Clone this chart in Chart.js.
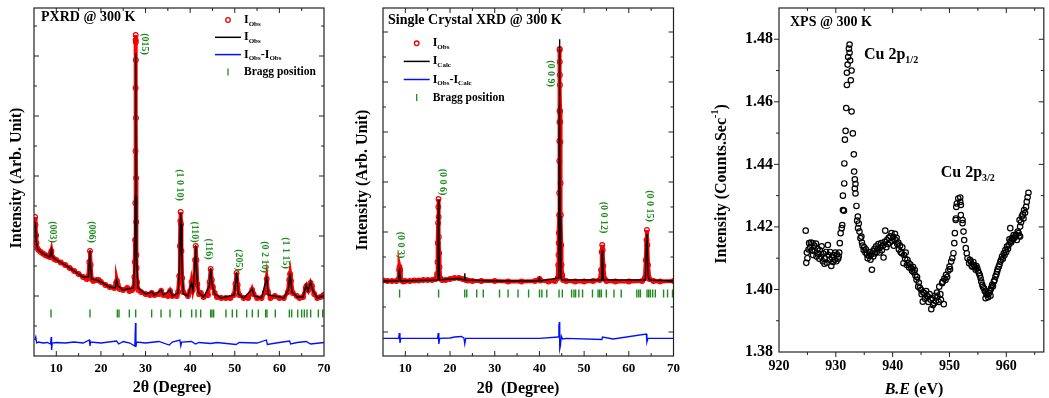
<!DOCTYPE html>
<html>
<head>
<meta charset="utf-8">
<script src="https://cdn.jsdelivr.net/npm/chart.js@4.4.1/dist/chart.umd.min.js"></script>
<style>
  html, body { margin: 0; padding: 0; background: #fff; }
  .panel { position: absolute; top: 0; height: 398px; }
  #p1 { left: 0; width: 340px; }
  #p2 { left: 340px; width: 345px; }
  #p3 { left: 685px; width: 364px; }
</style>
</head>
<body>
<div class="panel" id="p1"><canvas id="c1" width="340" height="398"></canvas></div>
<div class="panel" id="p2"><canvas id="c2" width="345" height="398"></canvas></div>
<div class="panel" id="p3"><canvas id="c3" width="364" height="398"></canvas></div>
<script>
// ---- PXRD @ 300 K : [2theta, intensity (arb.)] ----
const pxrdObs = [[5.25,139],[5.35,131],[5.45,121],[5.55,113],[5.7,108],[6.0,106],[6.5,104],[7.0,102.5],[7.5,101],[8.0,100],[8.5,99],[8.8,103],[8.9,105],[9.1,99],[9.5,97],[10,96],[11,93.5],[12,91],[13,88],[14,85],[15,82],[16,79],[16.8,77],[17.2,80],[17.4,94],[17.55,105],[17.7,91],[17.9,77],[18.3,75],[19,76],[19.5,76],[20,74],[21,71],[22,69],[23,68],[23.4,73],[23.6,75],[23.8,71],[24.2,67],[25,66],[25.9,68],[26.4,65],[27.0,66],[27.3,68],[27.5,79],[27.6,94],[27.66,116],[27.71,153],[27.75,205],[27.77,268],[27.79,316],[27.8,321],[27.82,314],[27.84,296],[27.86,238],[27.88,178],[27.91,134],[27.95,101],[28.0,88],[28.1,74],[28.4,66],[29,64],[30,62],[31,61],[31.4,63],[32,61],[33,62],[33.5,65],[34,61],[35,60],[35.5,65],[36,60],[37,60],[37.3,64],[37.55,80],[37.7,110],[37.8,135],[37.87,144],[37.95,132],[38.05,105],[38.2,78],[38.45,64],[39.5,60],[40.0,65],[40.3,74],[40.6,66],[40.9,72],[41.1,96],[41.25,110],[41.4,96],[41.6,72],[42.0,62],[42.4,63],[43,59],[44.0,61],[44.35,74],[44.6,87],[44.85,76],[45.1,69],[45.5,63],[46,59],[47,58],[48,58],[49,58],[49.8,61],[50.15,72],[50.4,83],[50.65,71],[51,61],[52,58],[53,58],[53.7,63],[53.9,66],[54.2,62],[55,58],[56,58],[56.8,64],[57.15,77],[57.45,64],[58,58],[59,60],[60,58],[61,58],[61.9,64],[62.2,76],[62.4,82],[62.6,75],[63,63],[63.9,60],[64.5,58],[65.3,59],[65.9,68],[66.1,70],[66.5,66],[67.0,73],[67.3,70],[67.8,62],[68.5,58],[69.2,59],[69.9,61],[70,60]];
const pxrdCalc = [[5.3,134],[5.5,115],[5.8,107],[6.5,104],[7.5,101],[8.5,99],[8.8,104],[8.9,106],[9.0,100],[10,96],[12,91],[14,85],[16,79],[17.2,79],[17.45,98],[17.55,106],[17.65,92],[17.9,77],[19,76],[20,74],[22,69],[23.2,68],[23.5,76],[23.8,70],[25,66],[26,67],[27.3,68],[27.6,96],[27.7,160],[27.8,303],[27.9,160],[28.0,96],[28.3,68],[30,62],[31.4,64],[32,61],[33.5,66],[34,61],[35.5,66],[36,60],[37.3,63],[37.6,90],[37.8,135],[37.87,143],[37.95,132],[38.15,85],[38.5,62],[39.5,60],[40.3,73],[40.6,66],[41.0,85],[41.25,111],[41.5,80],[41.8,64],[43,59],[44.3,70],[44.6,88],[44.9,72],[45.5,62],[47,58],[49.9,61],[50.4,84],[50.8,62],[52,58],[53.9,67],[54.4,60],[56,58],[57.15,78],[57.5,61],[59,60],[61,58],[62.0,66],[62.4,83],[62.8,64],[64,59],[65.3,59],[66.0,71],[66.4,65],[67.0,74],[67.5,65],[68.5,58],[70,60]];
const pxrdDiff = [[5.2,16],[5.4,19],[5.6,13],[6,14],[7,13],[8,13.5],[8.7,12],[8.85,19],[8.95,6],[9.1,13],[10,13.5],[12,13],[14,14],[16,13],[17.4,16],[17.55,10],[17.7,14],[20,13],[23.5,15],[24,12],[25,14.5],[26.5,13],[27.6,10],[27.75,33],[27.85,9],[28,14],[30,13],[33,14.5],[35.3,11],[36,14],[37.7,16],[37.9,10],[38.1,14],[40.3,14.5],[41.2,12],[42,13.5],[44.6,12.5],[46,13.5],[50.3,11.5],[51,13.5],[55,13],[57.1,16],[57.3,11.5],[60,13.5],[62.3,15],[62.5,12],[64,13.5],[66,14.5],[67,12],[70,13.5]];
const pxrdBragg = [8.81,17.55,23.68,24.05,26.37,27.79,31.37,33.47,35.48,37.87,40.34,41.31,42.36,44.6,44.9,45.27,48.03,49.45,50.43,52.67,53.94,55.28,56.93,57.22,59.09,62.23,62.75,64.1,64.99,65.59,66.19,67.01,68.73,69.7];
const pxrdHkl  = ['(003)','(006)','(015)','(1 0 10)','(110)','(116)','(205)','(0 2 10)','(1 1 15)'];
const pxrdHklX = [9.1, 17.93, 29.88, 37.72, 41.09, 44.07, 50.79, 56.62, 61.42];
const pxrdHklY = [124, 124, 312, 171, 124, 107, 96, 99, 103];

// ---- Single crystal XRD @ 300 K ----
const scObs = [[5,75.5],[6,75],[7,75],[8,75],[8.5,77],[8.6,86],[8.7,89],[8.85,86],[9,76],[9.5,74.5],[10,75],[11,75],[12,75.5],[13,75.5],[14,76],[15,76],[16,76],[16.8,77],[17.1,82],[17.2,94],[17.27,113],[17.33,133],[17.38,149],[17.42,157],[17.46,139],[17.5,119],[17.56,103],[17.65,89],[17.8,78],[18.2,76],[19,76],[20,77],[21,78],[22,78],[22.8,77],[23.5,76],[24,75.5],[25,75],[27,75],[30,75],[33,74.5],[36,74.5],[39,75],[40,77],[40.2,75.5],[42,74.5],[43.5,75],[44.1,78],[44.2,91],[44.27,101],[44.32,113],[44.36,123],[44.4,141],[44.42,163],[44.44,195],[44.46,215],[44.48,234],[44.5,245],[44.52,306],[44.54,307],[44.56,294],[44.58,281],[44.6,271],[44.63,245],[44.66,234],[44.7,214],[44.75,173],[44.8,141],[44.87,111],[44.95,91],[45.1,81],[45.3,76],[46,75],[48,74.5],[50,74.5],[52,75],[53.5,76],[53.8,86],[53.95,104],[54.05,111],[54.15,106],[54.3,90],[54.6,77],[55,75],[57,74.5],[60,74.5],[63,75],[63.6,78],[63.8,96],[63.95,116],[64.05,126],[64.15,111],[64.3,91],[64.6,77],[65.5,75],[67,74.5],[70,75]];
const scCalc = [[5,75],[8.5,75],[8.65,85],[8.7,89],[8.8,85],[8.95,75],[17.2,76],[17.3,110],[17.42,156],[17.5,110],[17.65,76],[20,77],[22,77.5],[23.2,76],[23.3,82.7],[23.4,76],[30,75],[39.8,75],[40,78],[40.2,75],[44.2,78],[44.35,140],[44.45,250],[44.5,316.7],[44.55,250],[44.65,140],[44.8,78],[45,76],[53.8,76],[53.95,100],[54.05,106],[54.15,100],[54.3,76],[63.7,76],[63.95,115],[64.05,122],[64.15,112],[64.3,80],[64.6,76],[70,75]];
const scDiff = [[5,17.7],[8.5,17.7],[8.65,23],[8.8,13],[9,17.7],[17.2,17.7],[17.35,23],[17.5,12],[17.7,17.7],[20,18],[21,19],[22.5,19.5],[23.1,18],[23.3,12],[23.5,17.7],[40,17.7],[44.2,19],[44.35,30],[44.45,34],[44.55,7],[44.7,10],[44.9,20],[45.2,17],[46,17.7],[54,16.5],[54.1,19],[56.5,17],[63.9,22],[64.05,14],[64.3,17.7],[70,17.7]];
const scBragg = [8.71,17.44,23.29,23.74,25.96,27.44,31.07,32.99,35.21,37.58,40.02,40.54,41.65,44.39,45.13,47.2,47.72,48.09,48.83,49.65,51.87,53.12,53.49,53.86,54.97,56.68,58.3,61.79,62.23,62.6,64.08,64.45,64.82,65.34,65.93,67.78,68.67,69.78];
const scHkl  = ['(0 0 3)','(0 0 6)','(0 0 9)','(0 0 12)','(0 0 15)'];
const scHklX = [8.93, 18.32, 42.4, 54.39, 64.6];
const scHklY = [111, 174, 282.5, 138.5, 150];

const xrdTicks = [10, 20, 30, 40, 50, 60, 70];

// ---- XPS @ 300 K : [B.E (eV), counts/s] ----
const xps = [[924.7,1.4188],[924.8,1.4085],[924.9,1.4118],[925.0,1.4100],[925.2,1.4128],[925.3,1.4148],[925.5,1.4135],[925.6,1.4150],[925.8,1.4125],[925.9,1.4148],[926.0,1.4110],[926.2,1.4140],[926.3,1.4122],[926.5,1.4147],[926.6,1.4105],[926.8,1.4130],[926.9,1.4115],[927.1,1.4098],[927.2,1.4125],[927.4,1.4105],[927.5,1.4138],[927.7,1.4090],[927.8,1.4115],[928.0,1.4082],[928.1,1.4100],[928.3,1.4120],[928.4,1.4085],[928.6,1.4142],[928.7,1.4110],[928.9,1.4095],[929.0,1.4120],[929.2,1.4075],[929.3,1.4102],[929.5,1.4088],[929.6,1.4110],[929.8,1.4095],[929.9,1.4118],[930.1,1.4090],[930.2,1.4112],[930.4,1.4098],[930.5,1.4105],[930.6,1.4118],[930.7,1.4148],[930.85,1.4180],[931.03,1.4196],[931.13,1.4206],[931.25,1.4254],[931.43,1.4252],
  [931.25,1.4300],[931.48,1.4339],[931.5,1.4403],[931.6,1.4479],[931.72,1.4507],[931.83,1.4580],[931.95,1.4654],[931.95,1.4693],[932.07,1.4719],[932.17,1.4743],[932.30,1.4770],[932.42,1.4783],[932.42,1.4757],[932.52,1.4732],[932.64,1.4669],[932.77,1.4700],[932.77,1.4569],[932.99,1.4499],[933.17,1.4432],[933.22,1.4377],[933.34,1.4352],[933.46,1.4337],[933.34,1.4323],[933.46,1.4307],[933.63,1.4267],[933.87,1.4233],[933.75,1.4220],[934.03,1.4211],[933.91,1.4196],[934.16,1.4185],[934.33,1.4164],
  [934.5,1.4169],[934.6,1.4150],[934.7,1.4140],[934.9,1.4126],[935.0,1.4135],[935.2,1.4118],[935.3,1.4128],[935.5,1.4112],[935.6,1.4100],[935.8,1.4108],[935.9,1.4120],[936.1,1.4095],[936.2,1.4112],[936.35,1.4063],[936.5,1.4122],[936.6,1.4105],[936.8,1.4130],[936.9,1.4115],[937.1,1.4138],[937.2,1.4120],[937.4,1.4128],[937.5,1.4145],[937.7,1.4118],[937.8,1.4135],[938.0,1.4148],[938.1,1.4125],[938.3,1.4140],[938.4,1.4102],[938.6,1.4152],[938.7,1.4188],[938.9,1.4135],[939.0,1.4158],[939.2,1.4145],[939.3,1.4165],[939.5,1.4150],[939.6,1.4170],[939.8,1.4180],[939.9,1.4155],[940.1,1.4168],[940.2,1.4140],[940.4,1.4178],[940.5,1.4158],[940.7,1.4165],[940.8,1.4145],[941.0,1.4150],[941.1,1.4128],[941.3,1.4140],[941.4,1.4120],[941.6,1.4116],[941.7,1.4135],[941.9,1.4084],[942.0,1.4110],[942.2,1.4098],[942.3,1.4118],[942.5,1.4078],[942.6,1.4095],[942.8,1.4085],[942.9,1.4070],[943.1,1.4080],[943.3,1.4068],[943.4,1.4060],[943.6,1.4072],[943.7,1.4055],[943.9,1.4062],[944.0,1.4045],[944.2,1.4031],[944.3,1.4040],[944.5,1.4009],[944.6,1.4022],[944.8,1.4005],[945.0,1.3999],[945.1,1.3985],[945.3,1.3961],[945.4,1.3990],[945.6,1.3988],[945.7,1.3970],[945.9,1.3995],[946.0,1.3980],[946.2,1.3977],[946.3,1.3960],[946.5,1.3985],[946.7,1.3967],[946.8,1.3937],[947.0,1.3972],[947.1,1.3950],[947.3,1.3956],[947.5,1.3980],[947.6,1.3962],[947.8,1.3990],[947.9,1.3977],[948.1,1.3960],[948.2,1.4009],[948.4,1.3985],[948.5,1.3967],[948.7,1.4020],[948.8,1.4025],[949.0,1.3953],[949.1,1.4035],[949.3,1.4030],[949.4,1.4047],[949.6,1.4040],[949.8,1.4060],[950.0,1.4073],[950.1,1.4065],[950.3,1.4089],[950.5,1.4100],[950.7,1.4116],[950.85,1.4148],[950.95,1.4180],[951.1,1.4222],[951.2,1.4264],
  [951.13,1.4227],[951.3,1.4275],[951.55,1.4291],[951.9,1.4294],[951.9,1.4280],[952.0,1.4270],[952.0,1.4238],[952.3,1.4222],[952.3,1.4212],[952.47,1.4185],[952.59,1.4158],[952.87,1.4132],[953.04,1.4116],[953.17,1.4100],[953.46,1.4084],[953.6,1.4095],[953.74,1.4089],[953.9,1.4076],[954.03,1.4073],[954.2,1.4088],[954.33,1.4078],[954.5,1.4070],[954.61,1.4063],[954.75,1.4075],[954.9,1.4068],[955.05,1.4058],[955.2,1.4052],[955.35,1.4045],[955.48,1.4036],[955.6,1.4025],[955.77,1.4015],[955.9,1.4008],[956.07,1.4004],[956.2,1.3995],[956.35,1.3993],[956.35,1.3972],[956.5,1.3985],[956.64,1.3983],[956.8,1.3975],[956.94,1.3988],[957.1,1.3995],[957.22,1.3999],[957.22,1.3980],[957.35,1.4005],[957.51,1.4015],[957.65,1.4010],[957.81,1.4025],[957.95,1.4030],[958.09,1.4041],[958.25,1.4048],[958.38,1.4057],[958.5,1.4065],[958.68,1.4073],[958.8,1.4080],[958.96,1.4089],[959.1,1.4095],[959.25,1.4105],[959.4,1.4098],[959.55,1.4116],[959.7,1.4110],[959.83,1.4126],[960.0,1.4120],[960.12,1.4137],[960.3,1.4130],[960.42,1.4142],[960.55,1.4160],[960.7,1.4153],[960.7,1.4196],[960.85,1.4150],[960.99,1.4164],[961.15,1.4160],[961.29,1.4174],[961.45,1.4165],[961.57,1.4169],[961.7,1.4175],[961.86,1.4158],[962.0,1.4185],[962.16,1.4180],[962.3,1.4172],[962.43,1.4169],[962.43,1.4201],[962.33,1.4222],[962.6,1.4215],[962.73,1.4233],[962.9,1.4240],[963.03,1.4227],[963.13,1.4254],[963.3,1.4245],[963.48,1.4264],[963.6,1.4280],[963.75,1.4295],[963.9,1.4309]];
const xpsXTicks = [920, 930, 940, 950, 960];
const xpsYTicks = [1.38, 1.40, 1.42, 1.44, 1.46, 1.48];

const SERIF = '"Liberation Serif", "Times New Roman", serif';
const GREEN = '#1f8a1f';

function pts(a) { return a.map(p => ({ x: p[0], y: p[1] })); }

// text with sub/superscripts: parts = [[text, ''|'sub'|'sup', italic], ...]
function rich(ctx, x, y, parts, size, align) {
  const main = (it) => `${it ? 'italic ' : ''}bold ${size}px ${SERIF}`;
  const small = `bold ${Math.round(size * 0.62)}px ${SERIF}`;
  let w = 0;
  parts.forEach(p => { ctx.font = p[1] ? small : main(p[2]); w += ctx.measureText(p[0]).width; });
  let cx = align === 'center' ? x - w / 2 : x;
  ctx.textBaseline = 'middle'; ctx.textAlign = 'left';
  parts.forEach(p => {
    ctx.font = p[1] ? small : main(p[2]);
    const dy = p[1] === 'sub' ? size * 0.32 : p[1] === 'sup' ? -size * 0.38 : 0;
    ctx.fillText(p[0], cx, y + dy);
    cx += ctx.measureText(p[0]).width;
  });
}

function ticksOn(chart, o) {
  const { ctx, chartArea: a, scales: { x, y } } = chart;
  ctx.save();
  ctx.strokeStyle = '#222'; ctx.lineWidth = 1.2;
  ctx.strokeRect(a.left, a.top, a.right - a.left, a.bottom - a.top);
  ctx.lineWidth = 1;
  const seg = (x1, y1, x2, y2) => { ctx.beginPath(); ctx.moveTo(x1, y1); ctx.lineTo(x2, y2); ctx.stroke(); };
  const ob = o.outBottom ? 1 : -1, ol = o.outLeft ? -1 : 1;
  [[o.xMaj, 5], [o.xMin, 3]].forEach(([vals, len]) => vals.forEach(v => {
    const px = x.getPixelForValue(v);
    if (px < a.left + 0.5 || px > a.right - 0.5) return;
    seg(px, a.bottom, px, a.bottom + ob * len);
    seg(px, a.top, px, a.top + len);
  }));
  [[o.yMaj, 5], [o.yMin, 3]].forEach(([vals, len]) => vals.forEach(v => {
    const py = y.getPixelForValue(v);
    if (py < a.top + 0.5 || py > a.bottom - 0.5) return;
    seg(a.left, py, a.left + ol * len, py);
    seg(a.right, py, a.right - len, py);
  }));
  ctx.restore();
}

function hklLabels(chart, names, xs, ys) {
  const { ctx, scales: { x, y } } = chart;
  ctx.save();
  ctx.fillStyle = GREEN;
  ctx.font = `bold 10px ${SERIF}`;
  ctx.textAlign = 'center'; ctx.textBaseline = 'middle';
  names.forEach((n, i) => {
    ctx.save();
    ctx.translate(x.getPixelForValue(xs[i]), y.getPixelForValue(ys[i]));
    ctx.rotate(Math.PI / 2);
    ctx.fillText(n, 0, 0);
    ctx.restore();
  });
  ctx.restore();
}

function legend(ctx, cx, y0, step, sub2) {
  ctx.save();
  ctx.fillStyle = '#000';
  const tx = cx + 16;
  ctx.strokeStyle = '#e00'; ctx.lineWidth = 1.3;
  ctx.beginPath(); ctx.arc(cx, y0, 2.3, 0, Math.PI * 2); ctx.stroke();
  rich(ctx, tx, y0, [['I', ''], ['Obs', 'sub']], 12);
  ctx.strokeStyle = '#000'; ctx.lineWidth = 1.5;
  ctx.beginPath(); ctx.moveTo(cx - 13, y0 + step); ctx.lineTo(cx + 13, y0 + step); ctx.stroke();
  rich(ctx, tx, y0 + step, [['I', ''], [sub2, 'sub']], 12);
  ctx.strokeStyle = '#0010ff';
  ctx.beginPath(); ctx.moveTo(cx - 13, y0 + 2 * step); ctx.lineTo(cx + 13, y0 + 2 * step); ctx.stroke();
  rich(ctx, tx, y0 + 2 * step, [['I', ''], ['Obs', 'sub'], ['-I', ''], [sub2, 'sub']], 12);
  ctx.strokeStyle = GREEN; ctx.lineWidth = 1.3;
  ctx.beginPath(); ctx.moveTo(cx, y0 + 3 * step - 3.5); ctx.lineTo(cx, y0 + 3 * step + 3.5); ctx.stroke();
  rich(ctx, tx, y0 + 3 * step, [['Bragg position', '']], 11.5);
  ctx.restore();
}

function vtitle(ctx, x, y, parts, size) {
  ctx.save(); ctx.translate(x, y); ctx.rotate(-Math.PI / 2);
  ctx.fillStyle = '#000'; rich(ctx, 0, 0, parts, size, 'center'); ctx.restore();
}

const noGrid = { display: false, drawTicks: false, tickLength: 0 };

function xrdConfig(obs, calc, diff, bragg, yLeft, padRight, deco) {
  return {
    type: 'line',
    data: {
      datasets: [
        { data: pts(calc), borderColor: '#000', borderWidth: 1.4, pointRadius: 0, order: 1 },
        { data: pts(diff), borderColor: '#0010ff', borderWidth: 1.3, pointRadius: 0, order: 1 },
        { type: 'scatter', data: bragg.map(v => ({ x: v, y: deco.braggY })), pointStyle: 'line', rotation: 90,
          pointRadius: 4, borderColor: GREEN, borderWidth: 1.4, order: 1 },
        { data: pts(obs), borderColor: '#f00', borderWidth: 4, pointRadius: 2.4, pointBorderWidth: 1.1,
          pointBorderColor: '#e00', pointBackgroundColor: 'rgba(0,0,0,0)', order: 5 }
      ]
    },
    options: {
      responsive: false, animation: false, devicePixelRatio: 1,
      layout: { padding: { top: 8, right: padRight, left: 0, bottom: 0 } },
      plugins: { legend: { display: false }, tooltip: { enabled: false } },
      scales: {
        x: { type: 'linear', min: 5, max: 70,
          afterBuildTicks: s => { s.ticks = xrdTicks.map(v => ({ value: v })); },
          afterFit: s => { s.height = 42; },
          ticks: { color: '#000', padding: 5, maxRotation: 0, font: { family: SERIF, weight: 'bold', size: 13 } },
          grid: noGrid, border: { display: false } },
        y: { type: 'linear', min: 0, max: 348,
          afterFit: s => { s.width = yLeft; },
          ticks: { display: false }, grid: noGrid, border: { display: false } }
      }
    },
    plugins: [{ id: 'deco', afterDraw: chart => deco.draw(chart) }]
  };
}

const xMaj = [10, 20, 30, 40, 50, 60];
const xMin = [5, 15, 25, 35, 45, 55, 65];

// panel 1
new Chart(document.getElementById('c1'), xrdConfig(pxrdObs, pxrdCalc, pxrdDiff, pxrdBragg, 34, 16, {
  braggY: 42.5,
  draw(chart) {
    const ctx = chart.ctx;
    ticksOn(chart, { xMaj, xMin, yMaj: [60, 120, 180, 240, 300], yMin: [30, 90, 150, 210, 270, 330] });
    hklLabels(chart, pxrdHkl, pxrdHklX, pxrdHklY);
    ctx.fillStyle = '#000';
    rich(ctx, 41, 17, [['PXRD @ 300 K', '']], 14);
    legend(ctx, 228, 20, 17.3, 'Obs');
    vtitle(ctx, 17, 178, [['Intensity (Arb. Unit)', '']], 16);
    rich(ctx, 172, 388, [['2θ (Degree)', '']], 16, 'center');
  }
}));

// panel 2
new Chart(document.getElementById('c2'), xrdConfig(scObs, scCalc, scDiff, scBragg, 43, 9, {
  braggY: 62.5,
  draw(chart) {
    const ctx = chart.ctx;
    ticksOn(chart, { xMaj, xMin, yMaj: [24, 74, 124, 174, 224, 274, 324], yMin: [49, 99, 149, 199, 249, 299] });
    hklLabels(chart, scHkl, scHklX, scHklY);
    ctx.fillStyle = '#000';
    rich(ctx, 48, 20, [['Single Crystal XRD @ 300 K', '']], 14);
    legend(ctx, 76.7, 43.3, 18.1, 'Calc');
    vtitle(ctx, 22.5, 180, [['Intensity (Arb. Unit)', '']], 16);
    rich(ctx, 178, 389, [['2θ  (Degree)', '']], 16, 'center');
  }
}));

// panel 3
new Chart(document.getElementById('c3'), {
  type: 'scatter',
  data: { datasets: [{ data: pts(xps), pointStyle: 'circle', pointRadius: 2.7, borderWidth: 1.2,
    borderColor: '#000', backgroundColor: 'rgba(0,0,0,0)' }] },
  options: {
    responsive: false, animation: false, devicePixelRatio: 1,
    layout: { padding: { top: 8, right: 1, left: 0, bottom: 0 } },
    plugins: { legend: { display: false }, tooltip: { enabled: false } },
    scales: {
      x: { type: 'linear', min: 920, max: 966.6,
        afterBuildTicks: s => { s.ticks = xpsXTicks.map(v => ({ value: v })); },
        afterFit: s => { s.height = 46; },
        ticks: { color: '#000', padding: 6, maxRotation: 0, font: { family: SERIF, weight: 'bold', size: 14 } },
        grid: noGrid, border: { display: false } },
      y: { type: 'linear', min: 1.38, max: 1.49,
        afterBuildTicks: s => { s.ticks = xpsYTicks.map(v => ({ value: v })); },
        afterFit: s => { s.width = 94; },
        ticks: { color: '#000', padding: 6, callback: v => v.toFixed(2),
          font: { family: SERIF, weight: 'bold', size: 16, lineHeight: 0.2 } },
        grid: noGrid, border: { display: false } }
    }
  },
  plugins: [{ id: 'deco3', afterDraw(chart) {
    const ctx = chart.ctx;
    ticksOn(chart, { xMaj: [920, 930, 940, 950, 960], xMin: [925, 935, 945, 955, 965],
      yMaj: xpsYTicks, yMin: [1.39, 1.41, 1.43, 1.45, 1.47, 1.49], outBottom: true, outLeft: true });
    ctx.fillStyle = '#000';
    rich(ctx, 105, 22.7, [['XPS @ 300 K', '']], 14);
    rich(ctx, 179, 55, [['Cu 2p', ''], ['1/2', 'sub']], 16);
    rich(ctx, 255.7, 173, [['Cu 2p', ''], ['3/2', 'sub']], 16);
    vtitle(ctx, 36.7, 184, [['Intensity (Counts.Sec', ''], ['-1', 'sup'], [')', '']], 16);
    rich(ctx, 229, 390, [['B.E', '', true], [' (eV)', '']], 16, 'center');
  } }]
});
</script>
</body>
</html>
